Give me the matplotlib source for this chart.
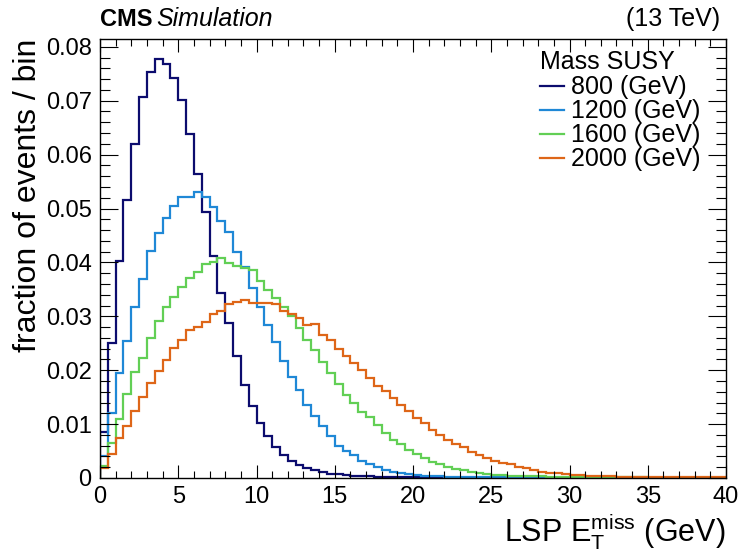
import numpy as np
import matplotlib
matplotlib.use('Agg')
import matplotlib.pyplot as plt
from matplotlib.ticker import MultipleLocator

plt.rcParams['font.family'] = ['Liberation Sans', 'DejaVu Sans']
plt.rcParams['mathtext.fontset'] = 'custom'
plt.rcParams['mathtext.rm'] = 'Liberation Sans'
plt.rcParams['mathtext.it'] = 'Liberation Sans:italic'

# 80 bins of 0.5 GeV between 0 and 40 GeV
edges = np.linspace(0, 40, 81)

mass_labels = ['800 (GeV)', '1200 (GeV)', '1600 (GeV)', '2000 (GeV)']
colors = ['#0c0c6e', '#1f88d6', '#62cf55', '#de6618']

m800 = [0.0086, 0.0250, 0.0403, 0.0516, 0.0619, 0.0706, 0.0753, 0.0778, 0.0768, 0.0742,
        0.0702, 0.0639, 0.0564, 0.0493, 0.0412, 0.0343, 0.0287, 0.0227, 0.0172, 0.0133,
        0.0102, 0.0078, 0.0057, 0.0042, 0.0031, 0.0024, 0.0018, 0.0014, 0.0011, 0.0008,
        0.0007, 0.0005, 0.0004, 0.0003, 0.0003, 0.0002, 0.0002, 0.0001, 0.0001, 0.0001,
        0.0001, 0.0001, 0.0, 0.0, 0.0, 0.0, 0.0, 0.0, 0.0, 0.0,
        0.0, 0.0, 0.0, 0.0, 0.0, 0.0, 0.0, 0.0, 0.0, 0.0,
        0.0, 0.0, 0.0, 0.0, 0.0, 0.0, 0.0, 0.0, 0.0, 0.0,
        0.0, 0.0, 0.0, 0.0, 0.0, 0.0, 0.0, 0.0, 0.0, 0.0]

m1200 = [0.0041, 0.0121, 0.0194, 0.0254, 0.0318, 0.0369, 0.0421, 0.0455, 0.0482, 0.0505,
         0.0521, 0.0522, 0.0530, 0.0521, 0.0502, 0.0477, 0.0456, 0.0420, 0.0392, 0.0352,
         0.0318, 0.0283, 0.0252, 0.0218, 0.0188, 0.0163, 0.0136, 0.0115, 0.0096, 0.0078,
         0.0060, 0.0050, 0.0043, 0.0032, 0.0026, 0.0021, 0.0015, 0.0012, 0.0009, 0.0007,
         0.0005, 0.0004, 0.0003, 0.0003, 0.0002, 0.0002, 0.0001, 0.0001, 0.0001, 0.0001,
         0.0001, 0.0001, 0.0001, 0.0, 0.0, 0.0, 0.0, 0.0, 0.0, 0.0,
         0.0, 0.0, 0.0, 0.0, 0.0, 0.0, 0.0, 0.0, 0.0, 0.0,
         0.0, 0.0, 0.0, 0.0, 0.0, 0.0, 0.0, 0.0, 0.0, 0.0]

m1600 = [0.0023, 0.0065, 0.0110, 0.0155, 0.0197, 0.0222, 0.0260, 0.0291, 0.0318, 0.0335,
         0.0355, 0.0371, 0.0383, 0.0397, 0.0401, 0.0408, 0.0398, 0.0394, 0.0390, 0.0386,
         0.0366, 0.0349, 0.0334, 0.0318, 0.0300, 0.0278, 0.0256, 0.0238, 0.0215, 0.0195,
         0.0175, 0.0154, 0.0139, 0.0123, 0.0114, 0.0098, 0.0084, 0.0071, 0.0063, 0.0052,
         0.0044, 0.0037, 0.0030, 0.0026, 0.0021, 0.0016, 0.0014, 0.0011, 0.0009, 0.0007,
         0.0006, 0.0005, 0.0004, 0.0004, 0.0003, 0.0003, 0.0003, 0.0002, 0.0002, 0.0002,
         0.0002, 0.0001, 0.0001, 0.0001, 0.0001, 0.0001, 0.0001, 0.0001, 0.0001, 0.0001,
         0.0, 0.0, 0.0, 0.0, 0.0, 0.0, 0.0, 0.0, 0.0, 0.0]

m2000 = [0.0018, 0.0045, 0.0074, 0.0097, 0.0125, 0.0150, 0.0176, 0.0199, 0.0219, 0.0241,
         0.0256, 0.0275, 0.0281, 0.0290, 0.0304, 0.0309, 0.0323, 0.0327, 0.0330, 0.0325,
         0.0324, 0.0324, 0.0323, 0.0310, 0.0305, 0.0296, 0.0284, 0.0286, 0.0265, 0.0256,
         0.0239, 0.0226, 0.0214, 0.0200, 0.0186, 0.0170, 0.0162, 0.0149, 0.0136, 0.0125,
         0.0111, 0.0102, 0.0089, 0.0080, 0.0071, 0.0064, 0.0058, 0.0049, 0.0043, 0.0037,
         0.0032, 0.0028, 0.0026, 0.0021, 0.0018, 0.0015, 0.0012, 0.0010, 0.0009, 0.0007,
         0.0006, 0.0005, 0.0004, 0.0004, 0.0003, 0.0003, 0.0002, 0.0002, 0.0002, 0.0002,
         0.0001, 0.0001, 0.0001, 0.0001, 0.0001, 0.0001, 0.0001, 0.0001, 0.0001, 0.0001]

fig = plt.figure(figsize=(7.44, 5.51), dpi=100)
ax = fig.add_axes([100 / 744, 1 - 478 / 551, 626 / 744, 439 / 551])

for vals, lab, col in zip([m800, m1200, m1600, m2000], mass_labels, colors):
    ax.stairs(vals, edges, color=col, lw=1.6, label=lab)

ax.set_xlim(0, 40)
ax.set_ylim(0, 0.08145)

ax.xaxis.set_major_locator(MultipleLocator(5))
ax.xaxis.set_minor_locator(MultipleLocator(1))
ax.yaxis.set_major_locator(MultipleLocator(0.01))
ax.yaxis.set_minor_locator(MultipleLocator(0.002))
ax.yaxis.set_major_formatter(plt.FuncFormatter(lambda v, p: '0' if abs(v) < 1e-9 else f'{v:.2f}'))

ax.tick_params(axis='both', which='both', direction='in', top=True, right=True,
               width=0.8, labelsize=17)
ax.tick_params(axis='x', which='major', length=9.5, pad=6)
ax.tick_params(axis='x', which='minor', length=5)
ax.tick_params(axis='y', which='major', length=13, pad=6)
ax.tick_params(axis='y', which='minor', length=7)
for sp in ax.spines.values():
    sp.set_linewidth(1.0)

ax.set_ylabel('fraction of events / bin', fontsize=23, loc='top', labelpad=2)
ax.set_xlabel(r'LSP E$_\mathregular{T}^\mathregular{miss}$ (GeV)', fontsize=22,
              loc='right', labelpad=2)
ax.xaxis.label.set_horizontalalignment('right')

# header line above the frame
ax.text(0.0, 1.03, 'CMS', transform=ax.transAxes, fontsize=17,
        fontweight='bold', ha='left', va='baseline')
ax.text(0.09, 1.03, 'Simulation', transform=ax.transAxes, fontsize=18,
        fontstyle='italic', ha='left', va='baseline')
ax.text(0.99, 1.03, '(13 TeV)', transform=ax.transAxes, fontsize=18,
        ha='right', va='baseline')

leg = ax.legend(title='Mass SUSY', loc='upper left', bbox_to_anchor=(0.703, 0.975),
                frameon=False, fontsize=18, title_fontsize=18, handlelength=0.95,
                handletextpad=0.3, labelspacing=0.0, borderpad=0,
                borderaxespad=0, alignment='left')
leg._legend_box.sep = 1

fig.savefig('out.png', dpi=100)
